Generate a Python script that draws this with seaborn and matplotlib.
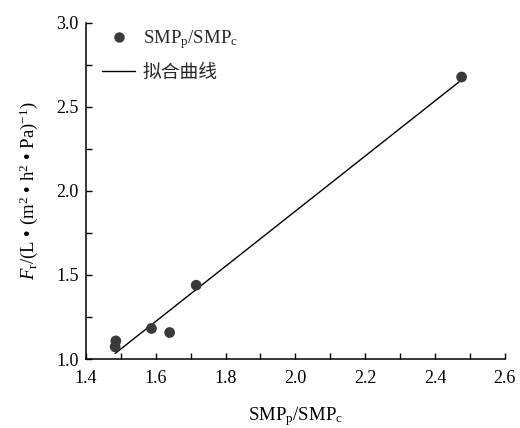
import numpy as np
import pandas as pd
import matplotlib
matplotlib.use("Agg")
import matplotlib.pyplot as plt
import seaborn as sns
from matplotlib.ticker import MultipleLocator, FormatStrFormatter
from matplotlib.lines import Line2D

# Measured membrane data
ratio = [1.486, 1.484, 1.588, 1.640, 1.716, 2.476]   # SMPp/SMPc
flux = [1.108, 1.073, 1.182, 1.158, 1.439, 2.677]    # Fr
xticks = [1.4, 1.6, 1.8, 2.0, 2.2, 2.4, 2.6]
yticks = [1.0, 1.5, 2.0, 2.5, 3.0]

sns.set_theme(style="ticks")
plt.rcParams["font.family"] = ["Liberation Serif", "Noto Sans CJK SC"]
plt.rcParams["mathtext.fontset"] = "custom"
plt.rcParams["mathtext.rm"] = "Liberation Serif"
plt.rcParams["mathtext.it"] = "Liberation Serif:italic"

df = pd.DataFrame({"ratio": ratio, "flux": flux})

fig = plt.figure(figsize=(5.2, 4.28), dpi=100)
ax = fig.add_axes([0.165, 0.161, 0.806, 0.786])

sns.regplot(data=df, x="ratio", y="flux", ax=ax, scatter=False, ci=None,
            truncate=True, line_kws=dict(color="black", lw=1.0, zorder=2))
sns.scatterplot(data=df, x="ratio", y="flux", ax=ax, s=60, color="#3a3a3a",
                edgecolor="none", zorder=3, legend=False)

ax.set_xlim(xticks[0], xticks[-1])
ax.set_ylim(yticks[0], yticks[-1])
ax.set_xticks(xticks)
ax.set_yticks(yticks)
ax.xaxis.set_minor_locator(MultipleLocator(0.1))
ax.yaxis.set_minor_locator(MultipleLocator(0.25))
ax.xaxis.set_major_formatter(FormatStrFormatter("%.1f"))
ax.yaxis.set_major_formatter(FormatStrFormatter("%.1f"))
ax.tick_params(which="both", direction="in", length=4, width=1.0, color="black",
               labelsize=13, labelcolor="black")
ax.tick_params(axis="x", which="major", pad=8)
ax.tick_params(axis="y", which="major", pad=5)
sns.despine(ax=ax)
for side in ("left", "bottom"):
    ax.spines[side].set_color("black")
    ax.spines[side].set_linewidth(1.1)

ax.set_xlabel(r"SMP$_\mathrm{p}$/SMP$_\mathrm{c}$", fontsize=13.5, color="black", labelpad=13)
ax.set_ylabel(r"$F_\mathrm{r}$/(L • (m$^2$ • h$^2$ • Pa)$^{-1}$)", fontsize=13.5,
              color="black", labelpad=12)

handles = [
    Line2D([], [], ls="none", marker="o", ms=7.5, mfc="#3a3a3a", mec="none"),
    Line2D([], [], color="black", lw=1.0),
]
labels = [r"SMP$_\mathrm{p}$/SMP$_\mathrm{c}$", "拟合曲线"]
ax.legend(handles, labels, loc="upper left", frameon=False, fontsize=13.5,
          handlelength=1.8, handletextpad=0.4, labelspacing=0.7,
          borderaxespad=0.0, bbox_to_anchor=(0.02, 1.005))

fig.savefig("out.png", dpi=100)
